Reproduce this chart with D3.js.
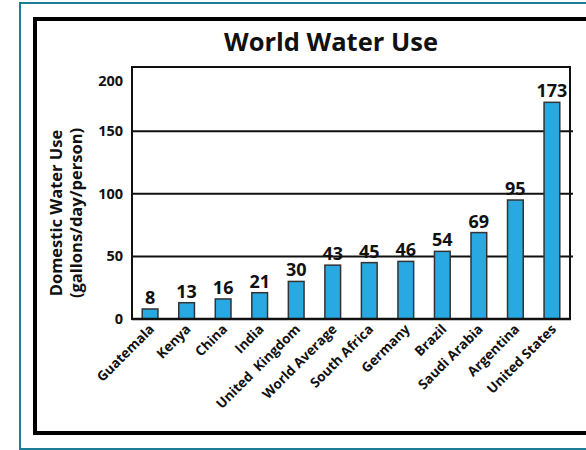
<!DOCTYPE html>
<html lang="en">
<head>
  <meta charset="UTF-8">
  <title>World Water Use</title>
  <script src="https://d3js.org/d3.v7.min.js"></script>
  <style>
    body { margin: 0; background: #fff; }
    text { font-family: "Open Sans", sans-serif; font-weight: 700; fill: #111; }
  </style>
</head>
<body>
<svg id="chart" width="586" height="450"></svg>

<script>
const countries = ["Guatemala", "Kenya", "China", "India", "United  Kingdom", "World Average",
  "South Africa", "Germany", "Brazil", "Saudi Arabia", "Argentina", "United States"];
const waterUse = [8, 13, 16, 21, 30, 43, 45, 46, 54, 69, 95, 173];
const yTicks = [0, 50, 100, 150, 200];

const svg = d3.select("#chart");

// frames
svg.append("rect")
  .attr("x", 20).attr("y", 3)
  .attr("width", 600).attr("height", 446)
  .attr("fill", "none")
  .attr("stroke", "#1d7d96")
  .attr("stroke-width", 2);

svg.append("rect")
  .attr("x", 35).attr("y", 19)
  .attr("width", 600).attr("height", 414)
  .attr("fill", "#fff")
  .attr("stroke", "#000")
  .attr("stroke-width", 4);

const plot = { left: 132, right: 570, top: 67, bottom: 319 };

const x = d3.scaleBand()
  .domain(countries)
  .range([plot.left, plot.right])
  .paddingInner(0.57)
  .paddingOuter(0.28);

const y = d3.scaleLinear().domain([0, 200]).range([plot.bottom, 68.5]);

svg.append("text")
  .attr("x", 331)
  .attr("y", 51)
  .attr("text-anchor", "middle")
  .style("font-size", "25.5px")
  .text("World Water Use");

// gridlines
svg.append("g")
  .selectAll("line")
  .data(yTicks.filter(d => d > 0 && d < 200))
  .join("line")
  .attr("x1", plot.left)
  .attr("x2", plot.right + 3)
  .attr("y1", d => y(d))
  .attr("y2", d => y(d))
  .attr("stroke", "#111")
  .attr("stroke-width", 2);

// plot box
svg.append("rect")
  .attr("x", plot.left).attr("y", plot.top)
  .attr("width", plot.right - plot.left)
  .attr("height", plot.bottom - plot.top)
  .attr("fill", "none")
  .attr("stroke", "#111")
  .attr("stroke-width", 2);

// bars
svg.append("g")
  .selectAll("rect")
  .data(waterUse)
  .join("rect")
  .attr("x", (d, i) => x(countries[i]))
  .attr("y", d => y(d))
  .attr("width", x.bandwidth())
  .attr("height", d => y(0) - y(d))
  .attr("fill", "#29a9e1")
  .attr("stroke", "#333")
  .attr("stroke-width", 1.5);

svg.append("line")
  .attr("x1", plot.left).attr("x2", plot.right + 1)
  .attr("y1", y(0)).attr("y2", y(0))
  .attr("stroke", "#111")
  .attr("stroke-width", 2.5);

// value labels
svg.append("g")
  .selectAll("text")
  .data(waterUse)
  .join("text")
  .attr("x", (d, i) => x(countries[i]) + x.bandwidth() / 2)
  .attr("y", d => y(d) - 5)
  .attr("text-anchor", "middle")
  .style("font-size", "18px")
  .text(d => d);

// y tick labels
svg.append("g")
  .selectAll("text")
  .data(yTicks)
  .join("text")
  .attr("x", 123)
  .attr("y", d => y(d))
  .attr("dy", d => d === 200 ? "1.2em" : "0.35em")
  .attr("text-anchor", "end")
  .style("font-size", "14.5px")
  .text(d => d);

// x labels
svg.append("g")
  .selectAll("text")
  .data(countries)
  .join("text")
  .attr("transform", d => `translate(${x(d) + x.bandwidth() / 2 + 5},${plot.bottom + 11}) rotate(-45)`)
  .attr("text-anchor", "end")
  .style("font-size", "13.5px")
  .style("white-space", "pre")
  .text(d => d);

// y axis title
const yTitle = svg.append("text")
  .attr("transform", "translate(62,213) rotate(-90)")
  .attr("text-anchor", "middle")
  .style("font-size", "16.5px");
yTitle.append("tspan").attr("x", 0).attr("dy", 0).text("Domestic Water Use");
yTitle.append("tspan").attr("x", 0).attr("dy", "1.2em").text("(gallons/day/person)");
</script>
</body>
</html>
